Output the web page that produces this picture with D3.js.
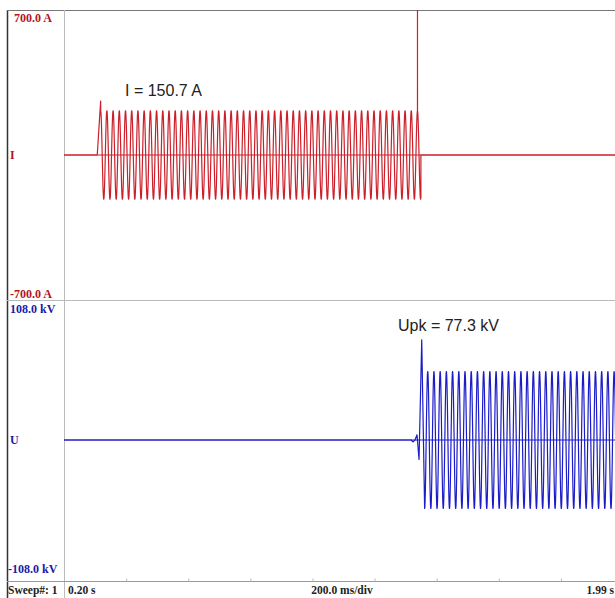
<!DOCTYPE html>
<html>
<head>
<meta charset="utf-8">
<script src="https://cdn.jsdelivr.net/npm/d3@7/dist/d3.min.js"></script>
<style>
  html, body { margin: 0; padding: 0; background: #fff; overflow: hidden; }
  svg { display: block; }
</style>
</head>
<body>
<svg id="chart" width="615" height="598"></svg>
<script>
// ---- Record settings ----
const timeRange = [0.20, 1.99];          // s, sweep window
const currentRange = [-700, 700];        // A, channel I full scale
const voltageRange = [-108, 108];        // kV, channel U full scale
const lineFreqHz = [50];
const timeTicks = [0.4, 0.6, 0.8, 1.0, 1.2, 1.4, 1.6, 1.8];

// ---- Channel I: injected current ----
const currentRmsA = [150.7];
const currentStartTimes = [0.307, 0.318];   // onset, first peak (s)
const currentFirstPeakA = [260];
const currentGlitch = [1.338, 700];         // time (s), value (A)
const currentStopTime = [1.349];

// ---- Channel U: recovery voltage ----
const voltageTransientT = [1.318, 1.3236, 1.330, 1.3365, 1.343, 1.3517, 1.361];
const voltageTransientKV = [0, -1.5, 0, 4, -15, 77.3, -52.8];
const voltagePeakKV = [52.8];

// ---- Layout ----
const W = 615, H = 598;
const plotLeft = 64, plotRight = 620;
const panelI = [10, 300];
const panelU = [300, 580];
const baseY = 581;

const svg = d3.select("#chart");

const x = d3.scaleLinear().domain(timeRange).range([plotLeft, plotRight]);
const yI = d3.scaleLinear().domain(currentRange).range([panelI[1], panelI[0]]);
const yU = d3.scaleLinear().domain(voltageRange).range([panelU[1], panelU[0]]);

const omega = 2 * Math.PI * lineFreqHz[0];
const step = 0.0002;
const tEnd = timeRange[1] + 0.02;

// Current samples
const iPk = currentRmsA[0] * Math.SQRT2;
const [tOn, tPk] = currentStartTimes;
const currentData = [];
for (let t = timeRange[0]; t <= tEnd; t += step) {
  if (t < tOn) currentData.push([t, 0]);
  else if (t < tPk) currentData.push([t, currentFirstPeakA[0] * (t - tOn) / (tPk - tOn)]);
  else if (t < currentStopTime[0]) {
    if (currentData.length && currentData[currentData.length - 1][0] < tPk) {
      currentData.push([tPk, currentFirstPeakA[0]]);
    }
    if (Math.abs(t - currentGlitch[0]) < step / 2) {
      const v = iPk * Math.cos(omega * (t - tPk));
      currentData.push([t, v], [t, currentGlitch[1]], [t + step * 0.3, v]);
    } else {
      currentData.push([t, iPk * Math.cos(omega * (t - tPk))]);
    }
  } else {
    if (currentData.length && currentData[currentData.length - 1][1] !== 0) {
      currentData.push([currentStopTime[0], 0]);
    }
    currentData.push([t, 0]);
  }
}

// Voltage samples
const tvLast = voltageTransientT[voltageTransientT.length - 1];
const voltageData = [];
for (let t = timeRange[0]; t < voltageTransientT[0]; t += step) voltageData.push([t, 0]);
voltageTransientT.forEach((t, i) => voltageData.push([t, voltageTransientKV[i]]));
for (let t = tvLast + step; t <= tEnd; t += step) {
  voltageData.push([t, -voltagePeakKV[0] * Math.cos(omega * (t - tvLast))]);
}

// ---- Clip regions ----
const defs = svg.append("defs");
defs.append("clipPath").attr("id", "clipI").append("rect")
  .attr("x", plotLeft).attr("y", panelI[0]).attr("width", plotRight - plotLeft).attr("height", panelI[1] - panelI[0]);
defs.append("clipPath").attr("id", "clipU").append("rect")
  .attr("x", plotLeft).attr("y", panelU[0]).attr("width", plotRight - plotLeft).attr("height", panelU[1] - panelU[0]);

// ---- Frame ----
const frame = svg.append("g");
frame.append("line").attr("x1", 7.5).attr("x2", 7.5).attr("y1", 10).attr("y2", H)
  .attr("stroke", "#333").attr("stroke-width", 1.5);
frame.append("line").attr("x1", 7).attr("x2", W).attr("y1", 10.5).attr("y2", 10.5)
  .attr("stroke", "#777").attr("stroke-width", 1);
frame.append("line").attr("x1", plotLeft + 0.5).attr("x2", plotLeft + 0.5).attr("y1", 10).attr("y2", H)
  .attr("stroke", "#bbb").attr("stroke-width", 1);
frame.append("line").attr("x1", 7).attr("x2", W).attr("y1", 300.5).attr("y2", 300.5)
  .attr("stroke", "#bbb").attr("stroke-width", 1);
frame.append("line").attr("x1", 7).attr("x2", W).attr("y1", baseY + 0.5).attr("y2", baseY + 0.5)
  .attr("stroke", "#999").attr("stroke-width", 1);

// Time divisions along the base line
const axis = d3.axisTop(x).tickValues(timeTicks).tickSize(3).tickFormat("");
const axisG = svg.append("g").attr("transform", `translate(0,${baseY + 0.5})`).call(axis);
axisG.select(".domain").remove();
axisG.selectAll(".tick line").attr("stroke", "#bbb");

// ---- Traces ----
const red = "#cc1f2a", blue = "#1c1cc8";

const lineI = d3.line().x(d => x(d[0])).y(d => yI(d[1]));
const lineU = d3.line().x(d => x(d[0])).y(d => yU(d[1]));

const gI = svg.append("g").attr("clip-path", "url(#clipI)");
gI.append("line").attr("x1", plotLeft).attr("x2", plotRight)
  .attr("y1", yI(0)).attr("y2", yI(0)).attr("stroke", red).attr("stroke-width", 1);
gI.append("path").datum(currentData).attr("d", lineI)
  .attr("fill", "none").attr("stroke", red).attr("stroke-width", 1.2).attr("stroke-linejoin", "round");

const gU = svg.append("g").attr("clip-path", "url(#clipU)");
gU.append("line").attr("x1", plotLeft).attr("x2", plotRight)
  .attr("y1", yU(0)).attr("y2", yU(0)).attr("stroke", blue).attr("stroke-width", 1);
gU.append("path").datum(voltageData).attr("d", lineU)
  .attr("fill", "none").attr("stroke", blue).attr("stroke-width", 1.2).attr("stroke-linejoin", "round");

// ---- Channel labels ----
const serif = "'Liberation Serif', 'Times New Roman', serif";
const labels = svg.append("g").attr("font-family", serif).attr("font-weight", "bold").attr("font-size", 12);
labels.append("text").attr("x", 14).attr("y", 22).attr("fill", "#b3141f").text(`${currentRange[1].toFixed(1)}  A`);
labels.append("text").attr("x", 10).attr("y", 298).attr("fill", "#b3141f").text(`${currentRange[0].toFixed(1)}  A`);
labels.append("text").attr("x", 10).attr("y", yI(0) + 4).attr("fill", "#b3141f").text("I");
labels.append("text").attr("x", 10).attr("y", 313).attr("fill", "#1a1aa6").text(`${voltageRange[1].toFixed(1)} kV`);
labels.append("text").attr("x", 8).attr("y", 573).attr("fill", "#1a1aa6").text(`${voltageRange[0].toFixed(1)} kV`);
labels.append("text").attr("x", 10).attr("y", yU(0) + 4).attr("fill", "#1a1aa6").text("U");

// ---- Status bar ----
const status = svg.append("g").attr("font-family", serif).attr("font-weight", "bold").attr("font-size", 11.5).attr("fill", "#222");
status.append("text").attr("x", 8).attr("y", 594).text("Sweep#: 1");
status.append("text").attr("x", 68).attr("y", 594).text(`${timeRange[0].toFixed(2)} s`);
status.append("text").attr("x", 342).attr("y", 594).attr("text-anchor", "middle").text("200.0 ms/div");
status.append("text").attr("x", 614).attr("y", 594).attr("text-anchor", "end").text(`${timeRange[1].toFixed(2)} s`);

// ---- Measurement annotations ----
const sans = "'Liberation Sans', Arial, sans-serif";
svg.append("text").attr("x", 125).attr("y", 96).attr("font-family", sans).attr("font-size", 16).attr("fill", "#222")
  .text(`I = ${currentRmsA[0].toFixed(1)} A`);
svg.append("text").attr("x", 398).attr("y", 331).attr("font-family", sans).attr("font-size", 16).attr("fill", "#222")
  .text(`Upk = ${voltageTransientKV[5].toFixed(1)} kV`);
</script>
</body>
</html>
